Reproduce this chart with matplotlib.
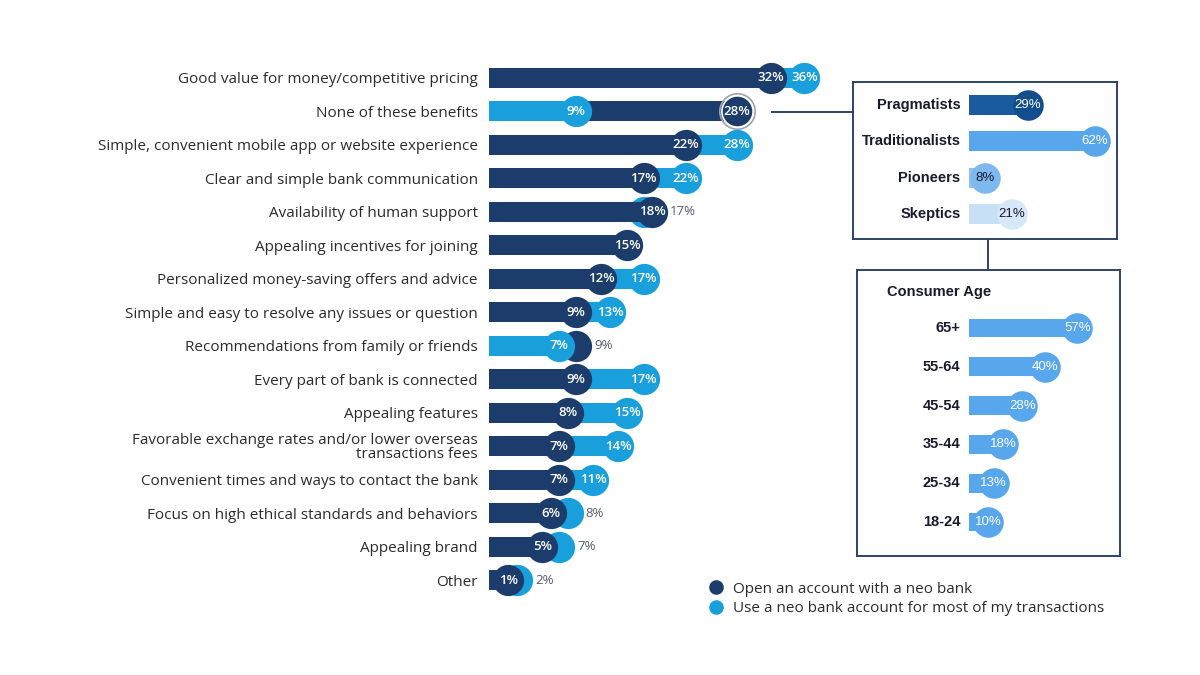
import numpy as np
import matplotlib.pyplot as plt
from matplotlib.lines import Line2D

# ---- data ----
categories = [
    "Good value for money/competitive pricing",
    "None of these benefits",
    "Simple, convenient mobile app or website experience",
    "Clear and simple bank communication",
    "Availability of human support",
    "Appealing incentives for joining",
    "Personalized money-saving offers and advice",
    "Simple and easy to resolve any issues or question",
    "Recommendations from family or friends",
    "Every part of bank is connected",
    "Appealing features",
    "Favorable exchange rates and/or lower overseas\ntransactions fees",
    "Convenient times and ways to contact the bank",
    "Focus on high ethical standards and behaviors",
    "Appealing brand",
    "Other",
]
open_account = [32, 28, 22, 17, 18, 15, 12, 9, 9, 9, 8, 7, 7, 6, 5, 1]
use_for_most = [36, 9, 28, 22, 17, np.nan, 17, 13, 7, 17, 15, 14, 11, 8, 7, 2]
series_names = ["Open an account with a neo bank",
                "Use a neo bank account for most of my transactions"]

segments = ["Pragmatists", "Traditionalists", "Pioneers", "Skeptics"]
segment_vals = [29, 62, 8, 21]

age_groups = ["65+", "55-64", "45-54", "35-44", "25-34", "18-24"]
age_vals = [57, 40, 28, 18, 13, 10]

# ---- style ----
DARK = "#1c3d6b"
LIGHT = "#19a0dc"
BOX_EDGE = "#2d4468"
TXT = "#2b2b2b"
highlight_row = 1

W, H = 1200, 675
fig = plt.figure(figsize=(12, 6.75), dpi=100)
fig.patch.set_facecolor("white")

def fx(px):
    return px / W

def fy(py):
    return 1 - py / H

# ---- main chart ----
ax = fig.add_axes([fx(489), fy(597), fx(900 - 489), (597 - 61) / H])
x0 = -1.3
ax.set_xlim(x0, 47.3)
ax.set_ylim(15.5, -0.5)
for s in ax.spines.values():
    s.set_visible(False)
ax.set_xticks([])
ax.set_yticks(range(len(categories)))
ax.set_yticklabels(categories, fontsize=11, color=TXT, fontfamily="Open Sans",
                   linespacing=0.9)
ax.tick_params(axis="y", length=0, pad=8)

bar_h = 0.6
ms = 22.5
for i, (d, l) in enumerate(zip(open_account, use_for_most)):
    items = [(d, DARK)]
    if not np.isnan(l):
        items.append((int(l), LIGHT))
    if len(items) == 2:
        # dark sits in front unless the light value is clearly smaller
        if l <= d - 2:
            order = [items[0], items[1]]
        else:
            order = [items[1], items[0]]
    else:
        order = items
    close = len(order) == 2 and abs(order[0][0] - order[1][0]) <= 2
    for j, (v, c) in enumerate(order):
        z = 2 + 2 * j
        ax.barh(i, v - x0, left=x0, height=bar_h, color=c, zorder=z)
        if i == highlight_row and c == DARK:
            ax.plot(v, i, "o", ms=ms + 3, mfc="none", mec="#9aa3b0", mew=1.2, zorder=z + 1)
            ax.plot(v, i, "o", ms=ms, color=c, mec="white", mew=1.2, zorder=z + 1)
        else:
            ax.plot(v, i, "o", ms=ms, color=c, mec="none", zorder=z + 1)
        if close and j == 0:
            vmax = max(order[0][0], order[1][0])
            ax.annotate(f"{v}%", xy=(vmax, i), xytext=(13, 0), textcoords="offset points",
                        ha="left", va="center", fontsize=9.5, color="#555b6b",
                        fontfamily="Open Sans", zorder=10)
        else:
            ax.text(v, i, f"{v}%", ha="center", va="center", fontsize=9.5,
                    color="white", fontfamily="Open Sans", fontweight="semibold",
                    zorder=10)

# ---- segment box ----
bx = fig.add_axes([fx(853), fy(239), fx(1117 - 853), (239 - 82) / H])
bx.set_xlim(-57.1, 72.9)
bx.set_ylim(3.69, -0.634)
bx.set_xticks([])
bx.set_yticks([])
for s in bx.spines.values():
    s.set_color(BOX_EDGE)
    s.set_linewidth(1.4)
seg_bar = ["#1a5b9f", "#58a6ec", "#8ec3f0", "#c8e0f6"]
seg_dot = ["#124d8c", "#58a6ec", "#7db8ee", "#d7e9f9"]
seg_txt = ["white", "white", "#1a1a2e", "#1a1a2e"]
for i, (name, v) in enumerate(zip(segments, segment_vals)):
    bx.barh(i, v, left=0, height=0.55, color=seg_bar[i], zorder=2)
    bx.plot(v, i, "o", ms=22, color=seg_dot[i], mec="none", zorder=3)
    bx.text(v, i, f"{v}%", ha="center", va="center", fontsize=9.5, color=seg_txt[i],
            fontfamily="Liberation Sans", zorder=4)
    bx.annotate(name, xy=(0, i), xytext=(-6, 0), textcoords="offset points",
                ha="right", va="center", fontsize=10.5, fontweight="bold",
                color="#1a1a2e", fontfamily="Liberation Sans")

# ---- age box ----
cx = fig.add_axes([fx(857), fy(556), fx(1120 - 857), (556 - 270) / H])
cx.set_xlim(-58.9, 79.5)
cx.set_ylim(5.876, -1.495)
cx.set_xticks([])
cx.set_yticks([])
for s in cx.spines.values():
    s.set_color(BOX_EDGE)
    s.set_linewidth(1.4)
AGE = "#58a6ec"
for i, (name, v) in enumerate(zip(age_groups, age_vals)):
    cx.barh(i, v, left=0, height=0.48, color=AGE, zorder=2)
    cx.plot(v, i, "o", ms=22, color=AGE, mec="none", zorder=3)
    cx.text(v, i, f"{v}%", ha="center", va="center", fontsize=9.5, color="white",
            fontfamily="Liberation Sans", zorder=4)
    cx.annotate(name, xy=(0, i), xytext=(-6, 0), textcoords="offset points",
                ha="right", va="center", fontsize=10.5, fontweight="bold",
                color="#1a1a2e", fontfamily="Liberation Sans")
cx.text(0.114, 0.923, "Consumer Age", transform=cx.transAxes, ha="left", va="center",
        fontsize=10.5, fontweight="bold", color="#1a1a2e", fontfamily="Liberation Sans")

# ---- connectors ----
fig.add_artist(Line2D([fx(772), fx(853)], [fy(112), fy(112)], transform=fig.transFigure,
                      color=BOX_EDGE, lw=1.4))
fig.add_artist(Line2D([fx(988), fx(988)], [fy(239), fy(270)], transform=fig.transFigure,
                      color=BOX_EDGE, lw=1.4))

# ---- legend ----
handles = [Line2D([], [], marker="o", ls="none", ms=9.5, color=DARK),
           Line2D([], [], marker="o", ls="none", ms=9.5, color=LIGHT)]
fig.legend(handles, series_names, loc="upper left", bbox_to_anchor=(fx(695), fy(568)),
           frameon=False, handlelength=1, handletextpad=0.6, labelspacing=0.3,
           prop={"family": "Open Sans", "size": 11}, labelcolor=TXT)

fig.savefig("out.png", dpi=100, facecolor="white")
